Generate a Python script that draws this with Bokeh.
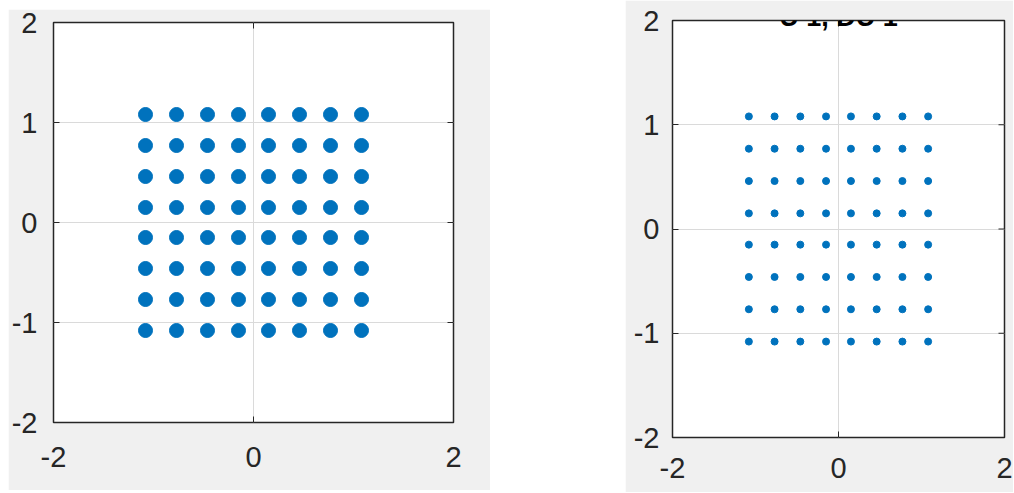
import numpy as np
from bokeh.plotting import figure
from bokeh.models import FixedTicker, Label, Spacer, Range1d, ColumnDataSource
from bokeh.layouts import row, column
from bokeh.embed import file_html
from bokeh.resources import INLINE

# 64-QAM constellation levels (normalised)
levels = [-1.08, -0.77, -0.46, -0.15, 0.15, 0.46, 0.77, 1.08]
x_ticks = [-2, 0, 2]
y_ticks = [-2, -1, 0, 1, 2]
tick_text = {-2: "-2", -1: "-1", 0: "0", 1: "1", 2: "2"}
right_title = "U 1, DU 1"

pts_i = [i for q in levels for i in levels]
pts_q = [q for q in levels for i in levels]

BLUE = "#0072BD"
AX = "#262626"
FONT = "Liberation Sans"


def make_fig(fw, fh, mb_l, mb_r, mb_t, mb_b, y_stand, x_stand):
    p = figure(frame_width=fw, frame_height=fh, x_range=Range1d(-2, 2), y_range=Range1d(-2, 2),
               output_backend="svg", toolbar_location=None,
               min_border_left=mb_l, min_border_right=mb_r,
               min_border_top=mb_t, min_border_bottom=mb_b)
    p.background_fill_color = "white"
    p.border_fill_color = "#f0f0f0"
    p.outline_line_color = AX
    p.outline_line_width = 1.5
    p.xaxis.ticker = FixedTicker(ticks=x_ticks)
    p.yaxis.ticker = FixedTicker(ticks=y_ticks)
    p.xgrid.ticker = FixedTicker(ticks=x_ticks)
    p.ygrid.ticker = FixedTicker(ticks=y_ticks)
    p.grid.grid_line_color = "#dadada"
    p.grid.grid_line_width = 1
    for ax, st in ((p.xaxis, x_stand), (p.yaxis, y_stand)):
        ax.axis_line_color = None
        ax.major_tick_in = 6
        ax.major_tick_out = 0
        ax.major_tick_line_color = AX
        ax.minor_tick_line_color = None
        ax.major_label_text_font = FONT
        ax.major_label_text_font_size = "29px"
        ax.major_label_text_color = AX
        ax.major_label_standoff = st
        ax.major_label_overrides = tick_text
    # mirrored inward ticks on the top and right edges
    p.ray(x=x_ticks, y=[2] * len(x_ticks), length=6, length_units="screen",
          angle=-np.pi / 2, line_color=AX, line_width=1)
    p.ray(x=[2] * len(y_ticks), y=y_ticks, length=6, length_units="screen",
          angle=np.pi, line_color=AX, line_width=1)
    return p


src = ColumnDataSource(dict(i=pts_i, q=pts_q))

p1 = make_fig(400, 400, 45, 37, 13, 68, 16, 24)
p1.scatter("i", "q", source=src, size=14, marker="circle", color=BLUE, line_color=BLUE)

p2 = make_fig(332, 417, 47, 9, 20, 55, 13, 20)
p2.scatter("i", "q", source=src, size=7, marker="circle", color=BLUE, line_color=BLUE)
p2.add_layout(Label(x=0, y=2.03, text=right_title, text_align="center",
                    text_baseline="alphabetic", text_font=FONT, text_font_style="bold",
                    text_font_size="27px", text_color="#000000"))

left = column(Spacer(width=482, height=9), p1)
layout = row(Spacer(width=8, height=10), left, Spacer(width=135, height=10), p2)
open("out.html", "w").write(file_html(layout, INLINE))
